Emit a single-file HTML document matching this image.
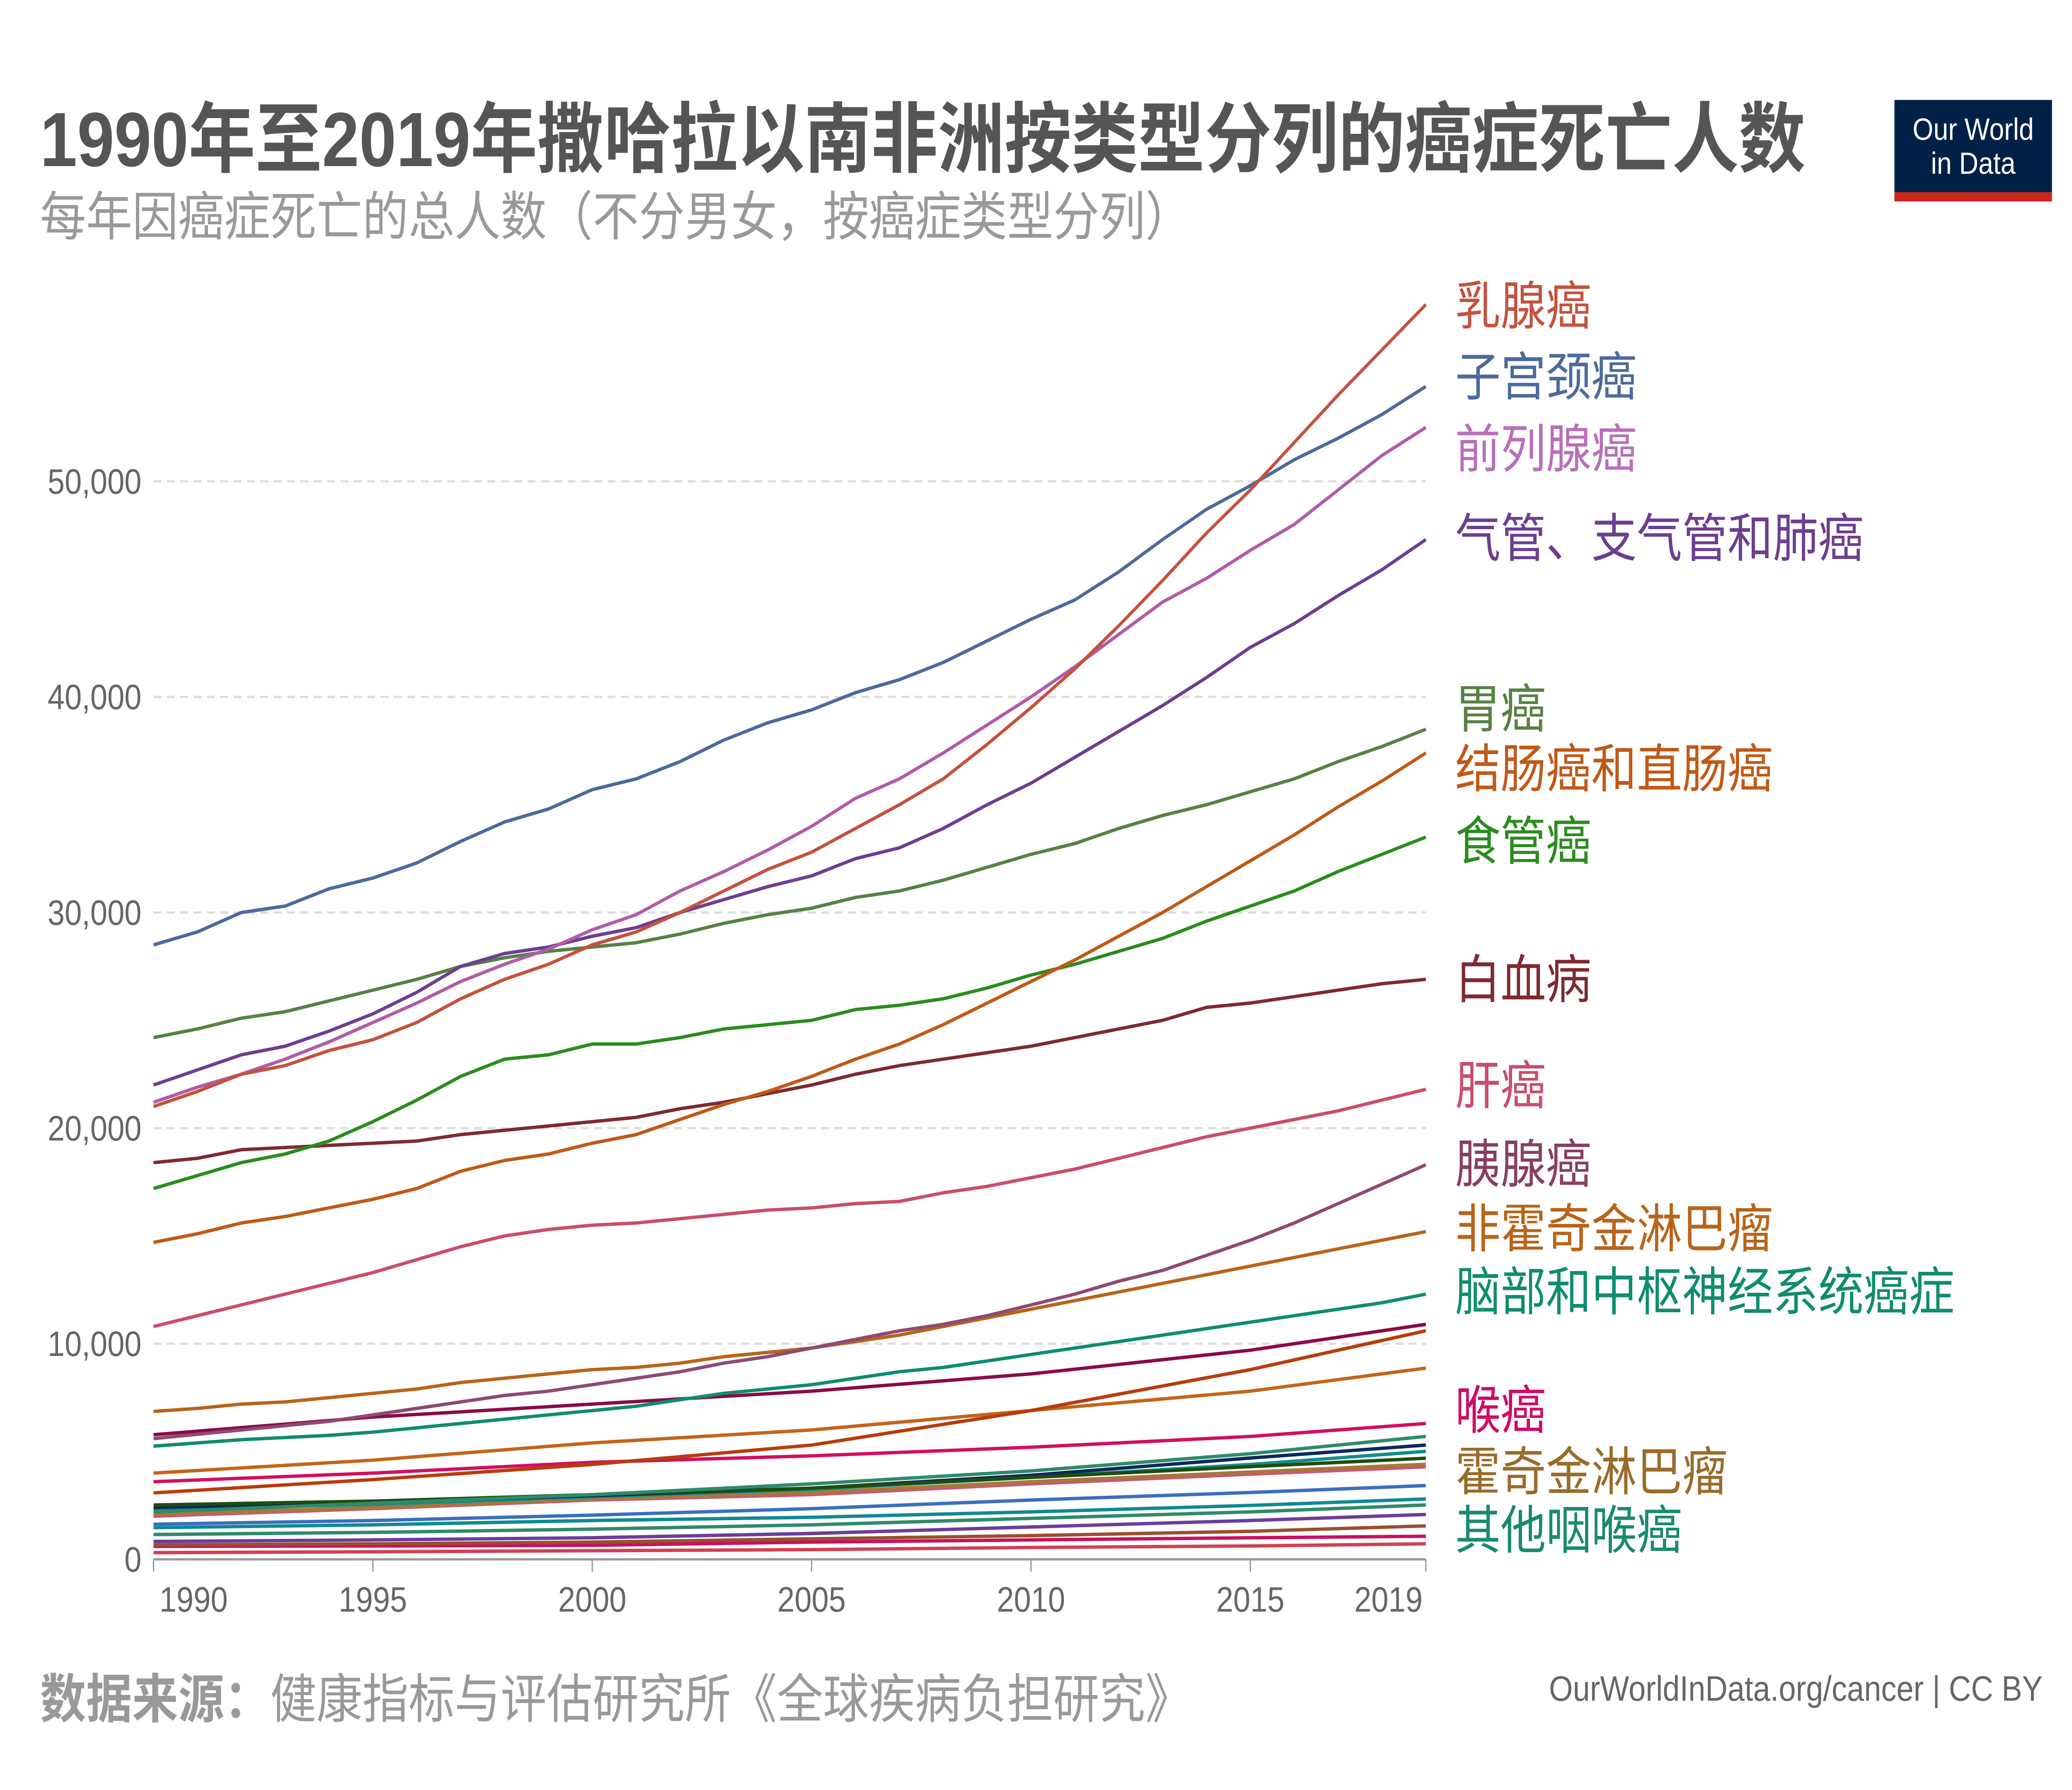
<!DOCTYPE html>
<html><head><meta charset="utf-8"><style>
html,body{margin:0;padding:0;background:#fff;width:100%;height:100%;overflow:hidden;}
svg{display:block;width:100vw;height:100vh;}
text{font-family:"Liberation Sans","Noto Sans CJK SC",sans-serif;}
</style></head><body>
<svg id="chart" viewBox="0 0 1552 1164" preserveAspectRatio="none" xmlns="http://www.w3.org/2000/svg">
<rect width="1552" height="1164" fill="#fff"/>
<text x="30" y="108" font-size="50" font-weight="bold" fill="#555">1990年至2019年撒哈拉以南非洲按类型分列的癌症死亡人数</text>
<text x="30" y="153" font-size="34.5" fill="#999">每年因癌症死亡的总人数（不分男女，按癌症类型分列）</text>
<g>
<rect x="1419" y="65" width="118" height="60" fill="#002147"/>
<rect x="1419" y="125" width="118" height="6" fill="#ce261e"/>
<text x="1478" y="91" font-size="20" fill="#fff" text-anchor="middle">Our World</text>
<text x="1478" y="113" font-size="20" fill="#fff" text-anchor="middle">in Data</text>
</g>
<g id="grid"></g>
<g id="axes"></g>
<g id="series"></g>
<g id="labels"></g>
<text x="30" y="1117" font-size="34.5" fill="#999"><tspan font-weight="bold">数据来源：</tspan>健康指标与评估研究所《全球疾病负担研究》</text>
<text x="1530" y="1106" font-size="23" fill="#666" text-anchor="end">OurWorldInData.org/cancer | CC BY</text>
</svg>
<script>
const years = [1990,1991,1992,1993,1994,1995,1996,1997,1998,1999,2000,2001,2002,2003,2004,2005,2006,2007,2008,2009,2010,2011,2012,2013,2014,2015,2016,2017,2018,2019];
const anchorYears = [1990,1995,2000,2005,2010,2015,2019];
const yTicks = [0,10000,20000,30000,40000,50000];
const yTickLabels = ["0","10,000","20,000","30,000","40,000","50,000"];
const xTicks = [1990,1995,2000,2005,2010,2015,2019];

const breast = [21000,21700,22500,22900,23600,24100,24900,26000,26900,27600,28500,29100,30000,31000,32000,32800,33900,35000,36200,37800,39500,41300,43300,45400,47600,49600,51800,54000,56100,58200];
const cervical = [28500,29100,30000,30300,31100,31600,32300,33300,34200,34800,35700,36200,37000,38000,38800,39400,40200,40800,41600,42600,43600,44500,45800,47300,48700,49800,51000,52000,53100,54400];
const prostate = [21200,21900,22500,23200,24000,24900,25800,26800,27600,28300,29200,29900,31000,31900,32900,34000,35300,36200,37400,38700,40000,41400,42900,44400,45500,46800,48000,49600,51200,52500];
const lung = [22000,22700,23400,23800,24500,25300,26300,27500,28100,28400,28900,29300,30000,30600,31200,31700,32500,33000,33900,35000,36000,37200,38400,39600,40900,42300,43400,44700,45900,47300];
const stomach = [24200,24600,25100,25400,25900,26400,26900,27500,27900,28200,28400,28600,29000,29500,29900,30200,30700,31000,31500,32100,32700,33200,33900,34500,35000,35600,36200,37000,37700,38500];
const colorectal = [14700,15100,15600,15900,16300,16700,17200,18000,18500,18800,19300,19700,20400,21100,21700,22400,23200,23900,24800,25800,26800,27800,28900,30000,31200,32400,33600,34900,36100,37400];
const esophageal = [17200,17800,18400,18800,19400,20300,21300,22400,23200,23400,23900,23900,24200,24600,24800,25000,25500,25700,26000,26500,27100,27600,28200,28800,29600,30300,31000,31900,32700,33500];
const leukemia = [18400,18600,19000,19100,19200,19300,19400,19700,19900,20100,20300,20500,20900,21200,21600,22000,22500,22900,23200,23500,23800,24200,24600,25000,25600,25800,26100,26400,26700,26900];
const liver = [10800,11300,11800,12300,12800,13300,13900,14500,15000,15300,15500,15600,15800,16000,16200,16300,16500,16600,17000,17300,17700,18100,18600,19100,19600,20000,20400,20800,21300,21800];
const pancreas = [5600,5800,6000,6200,6400,6700,7000,7300,7600,7800,8100,8400,8700,9100,9400,9800,10200,10600,10900,11300,11800,12300,12900,13400,14100,14800,15600,16500,17400,18300];
const nhl = [6860,7000,7200,7300,7500,7700,7900,8200,8400,8600,8800,8900,9100,9400,9600,9800,10100,10400,10800,11200,11600,12000,12400,12800,13200,13600,14000,14400,14800,15200];
const brain = [5250,5400,5550,5650,5750,5900,6100,6300,6500,6700,6900,7100,7400,7700,7900,8100,8400,8700,8900,9200,9500,9800,10100,10400,10700,11000,11300,11600,11900,12300];

const unlabeledMagenta = [5780,6600,7200,7800,8600,9700,10900];
const unlabeledOrangeRed = [3080,3700,4400,5300,6900,8800,10600];
const unlabeledOrange = [4000,4600,5400,6000,6900,7800,8870];
const larynx = [3600,4000,4500,4800,5200,5700,6300];
const otherPharynx = [2200,2600,3000,3500,4100,4900,5700];
const unlabeledDarkGreen = [2520,2700,3000,3300,3800,4300,4690];
const unlabeledNavy = [2400,2650,2950,3300,3900,4700,5300];
const unlabeledTeal = [2300,2550,2900,3250,3800,4400,5010];
const hodgkin = [2100,2400,2800,3100,3600,4050,4410];
const unlabeledPinkRed = [2000,2350,2750,3000,3500,3950,4290];
const unlabeledBlue = [1630,1800,2050,2350,2750,3100,3420];
const unlabeledTeal2 = [1470,1600,1800,1950,2200,2500,2800];
const unlabeledSeaGreen2 = [1150,1250,1400,1600,1900,2200,2520];
const unlabeledPurple = [830,900,1000,1200,1500,1800,2080];
const unlabeledBrown = [670,720,800,950,1100,1300,1550];
const unlabeledMagenta2 = [600,620,650,800,900,1000,1070];
const unlabeledRed = [310,350,400,450,550,620,720];

const NS = "http://www.w3.org/2000/svg";
const X0 = 115, X1 = 1068, Y0 = 1014, YPER = 0.01402;
function xs(yr){ return X0 + (yr-1990)/(2019-1990)*(X1-X0); }
function ys(v){ return Y0 - v*YPER; }
function mk(tag, attrs, parent){ const e=document.createElementNS(NS,tag); for(const k in attrs) e.setAttribute(k,attrs[k]); parent.appendChild(e); return e; }

const grid=document.getElementById('grid'), axes=document.getElementById('axes'), sg=document.getElementById('series'), lg=document.getElementById('labels');
yTicks.forEach((t,i)=>{
  if(t>0){ const l=mk('line',{x1:X0,x2:X1,y1:ys(t),y2:ys(t),stroke:'#ddd','stroke-width':1.5,'stroke-dasharray':'6,4'},grid);
    
     }
  const tx=mk('text',{x:106,y:ys(t)+8,'font-size':23,fill:'#666','text-anchor':'end'},axes);
  tx.textContent=yTickLabels[i];
  
  
});
const base=mk('line',{x1:X0,x2:X1,y1:Y0,y2:Y0,stroke:'#999','stroke-width':1.5},axes);


xTicks.forEach(t=>{
  const tk=mk('line',{x1:xs(t),x2:xs(t),y1:Y0,y2:Y0+8,stroke:'#999','stroke-width':1},axes);
  
  
  const tx=mk('text',{x:t===1990?X0+30:(t===2019?X1-28:xs(t)),y:1048,'font-size':23,fill:'#666','text-anchor':'middle'},axes);
  tx.textContent=String(t);
  
  
});

const minor=[
 [unlabeledRed,'#d33f53'],[unlabeledMagenta2,'#c8105f'],[unlabeledBrown,'#9a4f2e'],[unlabeledPurple,'#6a3d9a'],
 [unlabeledSeaGreen2,'#2e8a6a'],[unlabeledTeal2,'#0f8a94'],[unlabeledBlue,'#3a6fc0'],[unlabeledPinkRed,'#c75876'],
 [hodgkin,'#a87838'],[unlabeledTeal,'#138c8c'],[unlabeledNavy,'#0b2a5a'],[unlabeledDarkGreen,'#1e4d10'],
 [otherPharynx,'#2e8a6a'],[larynx,'#d1105f'],[unlabeledOrange,'#c3651a'],[unlabeledOrangeRed,'#b83c0c'],[unlabeledMagenta,'#8b0a47']
];
minor.forEach(([arr,c])=>{
  const p=mk('polyline',{points:arr.map((v,i)=>xs(anchorYears[i])+','+ys(v)).join(' '),fill:'none',stroke:c,'stroke-width':2.2,'stroke-linejoin':'round'},sg);
  
  
});
const major=[
 [brain,'#0f8d6e','brain-cns'],[nhl,'#b86419','non-hodgkin'],[pancreas,'#8e4a72','pancreatic'],[liver,'#c94e6b','liver'],
 [leukemia,'#7e2a30','leukemia'],[esophageal,'#2b8c1e','esophageal'],[colorectal,'#c05917','colorectal'],[stomach,'#578145','stomach'],
 [lung,'#6d3e91','lung'],[prostate,'#b05ca8','prostate'],[cervical,'#4c6a9c','cervical'],[breast,'#c4523e','breast']
];
major.forEach(([arr,c,n])=>{
  const p=mk('polyline',{points:arr.map((v,i)=>xs(years[i])+','+ys(v)).join(' '),fill:'none',stroke:c,'stroke-width':2.2,'stroke-linejoin':'round'},sg);
  
  
});
const labs=[
 ['乳腺癌','#c4523e',199],['子宫颈癌','#4c6a9c',245],['前列腺癌','#b86fb8',292],['气管、支气管和肺癌','#6d3e91',350],
 ['胃癌','#578145',461],['结肠癌和直肠癌','#c05917',500],['食管癌','#2b8c1e',547],['白血病','#7e2a30',637],
 ['肝癌','#c94e6b',706],['胰腺癌','#883f62',757],['非霍奇金淋巴瘤','#b86419',799],['脑部和中枢神经系统癌症','#0f8d6e',840],
 ['喉癌','#cf0a66',917],['霍奇金淋巴瘤','#9a6b2a',957],['其他咽喉癌','#1a8a6f',995]
];
labs.forEach(([t,c,y])=>{
  const tx=mk('text',{x:1090,y:y+12,'font-size':34,fill:c},lg);
  tx.textContent=t;
  
  
});
</script>
</body></html>
